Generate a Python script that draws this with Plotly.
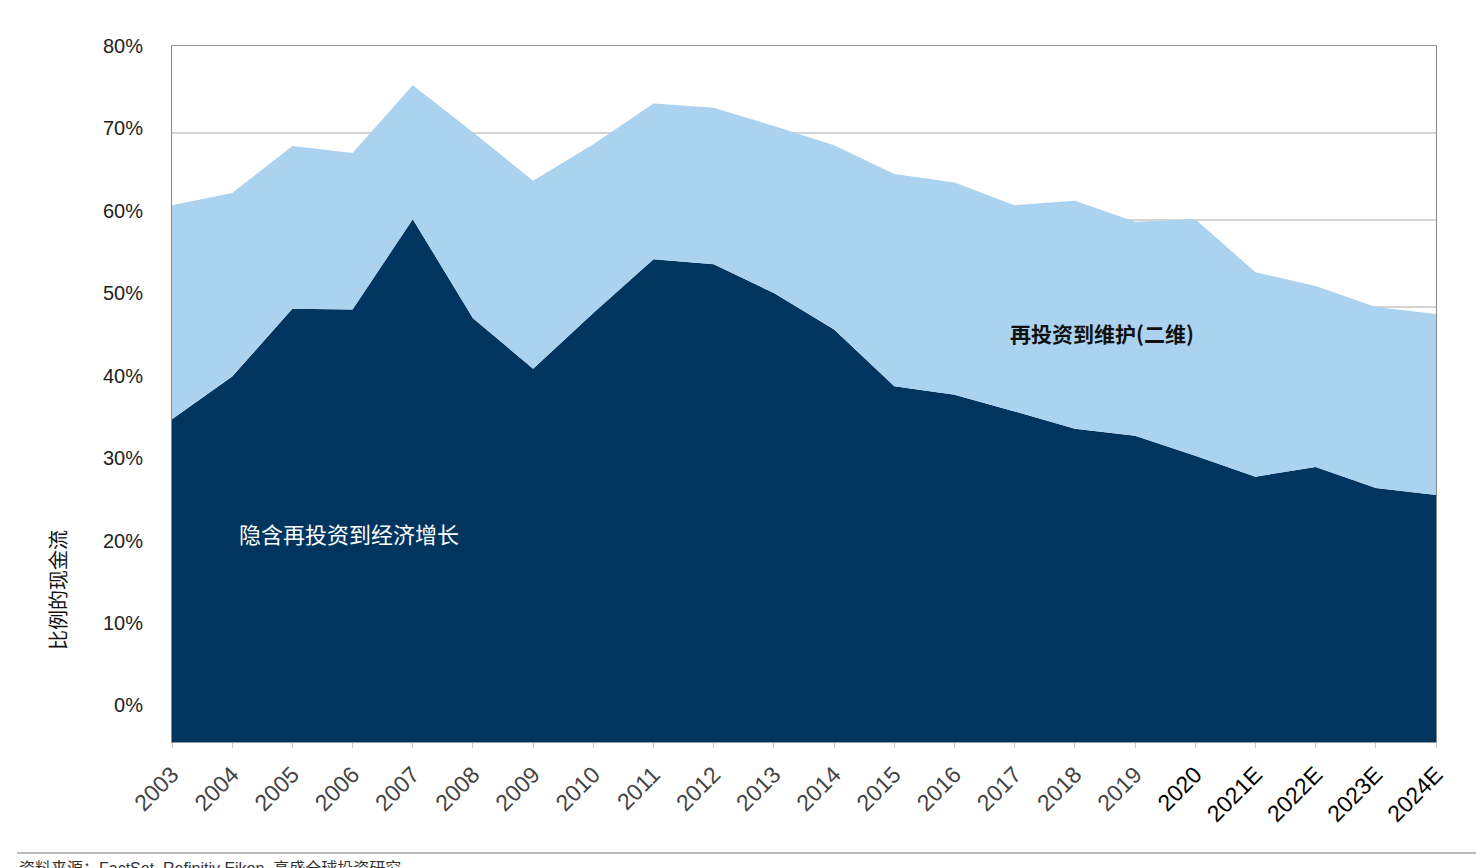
import plotly.graph_objects as go

years = ["2003", "2004", "2005", "2006", "2007", "2008", "2009", "2010", "2011", "2012",
         "2013", "2014", "2015", "2016", "2017", "2018", "2019", "2020", "2021E", "2022E",
         "2023E", "2024E"]
# implicit reinvestment into economic growth (dark area, top edge)
growth = [0.371, 0.420, 0.498, 0.497, 0.601, 0.487, 0.429, 0.493, 0.555, 0.549,
          0.516, 0.474, 0.409, 0.399, 0.380, 0.360, 0.352, 0.329, 0.305, 0.316,
          0.292, 0.284]
# total reinvestment incl. maintenance (light area, top edge)
total = [0.617, 0.631, 0.685, 0.677, 0.755, 0.701, 0.645, 0.687, 0.734, 0.729,
         0.708, 0.686, 0.653, 0.643, 0.617, 0.622, 0.598, 0.601, 0.540, 0.524,
         0.500, 0.492]
y_ticks = [0, 0.1, 0.2, 0.3, 0.4, 0.5, 0.6, 0.7, 0.8]
dark_years = {"2020", "2021E", "2022E", "2023E", "2024E"}

DARK = "#00355F"
LIGHT = "#ABD2EF"
FONT = "Liberation Sans, Arial, Noto Sans CJK SC"

W, H = 1476, 868
L, R, T, B = 172, 40, 46, 126
PW, PH = W - L - R, H - T - B


def px(x):
    return (x - L) / PW


def py(y):
    return (H - B - y) / PH


fig = go.Figure()
fig.add_trace(go.Scatter(x=years, y=growth, mode="lines", line=dict(width=0, color=DARK),
                         fill="tozeroy", fillcolor=DARK, showlegend=False, hoverinfo="skip"))
fig.add_trace(go.Scatter(x=years, y=total, mode="lines", line=dict(width=0, color=LIGHT),
                         fill="tonexty", fillcolor=LIGHT, showlegend=False, hoverinfo="skip"))
# label-only axis (tick labels in the reference are offset from the gridlines)
fig.add_trace(go.Scatter(x=[years[0]], y=[None], yaxis="y2", mode="markers",
                         marker=dict(opacity=0), showlegend=False, hoverinfo="skip"))

ticktext = [f"<span style='color:#000'>{y}</span>" if y in dark_years else y for y in years]

fig.update_layout(
    width=W, height=H,
    margin=dict(l=L, r=R, t=T, b=B),
    paper_bgcolor="white", plot_bgcolor="white",
    font=dict(family=FONT, color="#222"),
    xaxis=dict(type="category", range=[0, len(years) - 1], tickmode="array",
               tickvals=years, ticktext=ticktext, tickangle=-45,
               tickfont=dict(size=23, color="#444", family=FONT),
               ticks="outside", ticklen=5, tickcolor="#cccccc", ticklabelstandoff=4,
               showgrid=False, showline=True, linecolor="#999999", mirror=True,
               zeroline=False),
    yaxis=dict(range=[0, 0.8], tickvals=y_ticks, showticklabels=False, ticks="",
               showgrid=True, gridcolor="#d4d4d4", gridwidth=1.5,
               showline=True, linecolor="#888888", mirror=True, zeroline=False),
    yaxis2=dict(overlaying="y", side="left", range=[-0.0444, 0.8], tickvals=y_ticks,
                tickformat=".0%", showgrid=False, zeroline=False, showline=False,
                ticks="", ticklabelstandoff=28,
                tickfont=dict(size=20, color="#222", family=FONT)),
)

fig.add_annotation(xref="paper", yref="paper", x=px(349), y=py(533),
                   xanchor="center", yanchor="middle",
                   text="隐含再投资到经济增长", showarrow=False,
                   font=dict(size=22, color="white", family="Noto Sans CJK SC"))
fig.add_annotation(xref="paper", yref="paper", x=px(1102), y=py(333),
                   xanchor="center", yanchor="middle",
                   text="<b>再投资到维护(二维)</b>", showarrow=False,
                   font=dict(size=21, color="#111", family="Noto Sans CJK SC"))
fig.add_annotation(xref="paper", yref="paper", x=px(57), y=py(590),
                   xanchor="center", yanchor="middle",
                   text="比例的现金流", textangle=-90, showarrow=False,
                   font=dict(size=20, color="#111", family="Noto Sans CJK SC"))
fig.add_shape(type="line", xref="paper", yref="paper", x0=px(17), x1=px(W), y0=py(853), y1=py(853),
              line=dict(color="#777777", width=1))
fig.add_annotation(xref="paper", yref="paper", x=px(17), y=py(858), xanchor="left", yanchor="top",
                   text="资料来源：FactSet, Refinitiv Eikon, 高盛全球投资研究", showarrow=False,
                   font=dict(size=16, color="#333", family=FONT))

fig.write_html("out.html")
